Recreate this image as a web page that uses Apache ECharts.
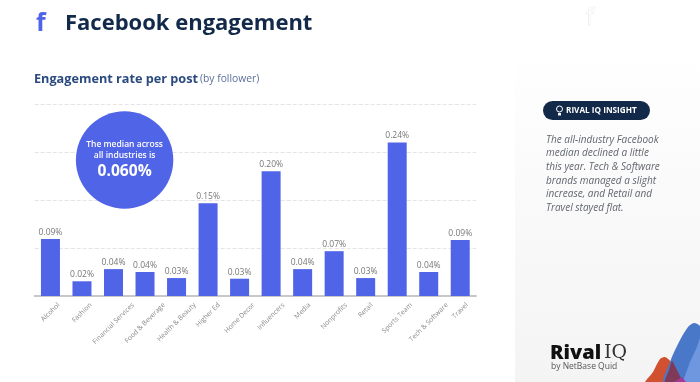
<!DOCTYPE html>
<html><head><meta charset="utf-8">
<style>html,body{margin:0;padding:0;background:#fff}#c{width:700px;height:382px}</style>
<script src="https://cdn.jsdelivr.net/npm/echarts@6/dist/echarts.min.js"></script>
</head><body><div id="c"></div>
<script>
const categories = ['Alcohol','Fashion','Financial Services','Food & Beverage','Health & Beauty','Higher Ed','Home Decor','Influencers','Media','Nonprofits','Retail','Sports Team','Tech & Software','Travel'];
const values = [0.089,0.023,0.042,0.0375,0.028,0.145,0.027,0.195,0.042,0.07,0.028,0.24,0.0375,0.0875];
const valueLabels = ['0.09%','0.02%','0.04%','0.04%','0.03%','0.15%','0.03%','0.20%','0.04%','0.07%','0.03%','0.24%','0.04%','0.09%'];
const insightLines = ['The all-industry Facebook','median declined a little','this year. Tech & Software','brands managed a slight','increase, and Retail and','Travel stayed flat.'];
const F = '"Open Sans", sans-serif';
const BLUE = '#5064e8', NAVY = '#12294a';
const LABEL_FONT = '6.8px "Open Sans"';
const measure = document.createElement('canvas').getContext('2d');
const chart = echarts.init(document.getElementById('c'), null, {renderer:'canvas'});
const t = (x,y,text,style,z) => ({type:'text',x,y,z:z||10,style:Object.assign({text,fontFamily:F,verticalAlign:'middle'},style)});
chart.setOption({
  animation:false,
  backgroundColor:'#fff',
  grid:{left:34.7,right:224,top:104,bottom:86},
  xAxis:{type:'category',data:categories,
    axisLine:{lineStyle:{color:'#c8c8c8',width:2}},axisTick:{show:false},axisLabel:{show:false}},
  yAxis:{type:'value',min:0,max:0.3,interval:0.075,
    axisLine:{show:false},axisTick:{show:false},axisLabel:{show:false},
    splitLine:{lineStyle:{color:'#e4e4e4',type:'dashed',width:1}}},
  series:[
    {type:'bar',data:values,barWidth:19,itemStyle:{color:BLUE},
      label:{show:true,position:'top',distance:2,color:'#777',fontSize:8.5,fontFamily:F,
        formatter:p=>valueLabels[p.dataIndex]}},
    {type:'custom',silent:true,clip:false,data:categories.map((c,i)=>[i,0]),
      renderItem:(params,api)=>{
        const p = api.coord([api.value(0),0]);
        const text = categories[params.dataIndex];
        measure.font = LABEL_FONT;
        const half = measure.measureText(text).width/2*Math.SQRT1_2;
        return {type:'text',x:p[0],y:p[1]+8+half,rotation:Math.PI/4,
          style:{text,font:LABEL_FONT,fill:'#8a8a8a',align:'center',verticalAlign:'middle'}};
      }}
  ],
  graphic:{elements:[
    {type:'rect',silent:true,z:-1,shape:{x:515,y:47,width:185,height:335},
      style:{fill:new echarts.graphic.LinearGradient(0,0,0,1,[{offset:0,color:'#ffffff'},{offset:0.5,color:'#f9f9f9'},{offset:1,color:'#f4f4f4'}])}},
    t(36,24,'f',{fill:BLUE,fontSize:25,fontWeight:700}),
    t(65,24,'Facebook engagement',{fill:NAVY,fontSize:22,fontWeight:700}),
    t(34,79,'Engagement rate per post',{fill:'#2b4a80',fontSize:12.7,fontWeight:700}),
    t(200,79.5,'(by follower)',{fill:'#5a7099',fontSize:10.3}),
    {type:'circle',z:10,shape:{cx:124.6,cy:160,r:48.7},style:{fill:BLUE}},
    t(124.6,145,'The median across',{fill:'#fff',fontSize:8.5,fontWeight:600,align:'center'}),
    t(124.6,156,'all industries is',{fill:'#fff',fontSize:8.5,fontWeight:600,align:'center'}),
    t(124.6,172,'0.060%',{fill:'#fff',fontSize:15.6,fontWeight:700,align:'center'}),
    t(590,18,'f',{fill:'#fff',stroke:'#d4d4d4',lineWidth:0.6,fontSize:23,align:'center'}),
    {type:'rect',z:10,shape:{x:543,y:101,width:107,height:19,r:9.5},style:{fill:NAVY}},
    {type:'circle',z:11,shape:{cx:559.5,cy:109,r:3},style:{fill:'none',stroke:'#fff',lineWidth:1}},
    {type:'rect',z:11,shape:{x:558,y:113,width:3,height:2.5},style:{fill:'#fff'}},
    t(566,111,'RIVAL IQ INSIGHT',{fill:'#fff',fontSize:8.2,fontWeight:700}),
    ...insightLines.map((s,i)=>t(546,140+i*13.6,s,{fill:'#62666f',fontSize:10,fontStyle:'italic'})),
    t(550,353,'Rival',{fill:'#111',fontSize:20,fontWeight:800}),
    t(604,353,'IQ',{fill:'#333',fontSize:19,fontFamily:'"DejaVu Serif", serif'}),
    t(551,367,'by NetBase Quid',{fill:'#555',fontSize:8.5}),
    {type:'polygon',z:5,shape:{smooth:0.3,points:[[645,384],[653,372],[660,359],[665,357],[671,362],[677,374],[684,384]]},style:{fill:'#d0502f'}},
    {type:'polygon',z:6,shape:{smooth:0.3,points:[[664,384],[670,362],[679,342],[688,327],[694,323],[700,326],[704,340],[704,384]]},style:{fill:'#4a78c8'}},
    {type:'polygon',z:7,shape:{points:[[682,384],[690,362],[697,347],[701,335],[701,384]]},style:{fill:'#6f97e0'}},
    {type:'polygon',z:8,shape:{smooth:0.3,points:[[665,384],[669,370],[672,361],[675,366],[680,376],[684,384]]},style:{fill:'#7f3a5a'}},
    {type:'polygon',z:9,shape:{points:[[674,382],[682,377],[686,382]]},style:{fill:'#a23a9a'}}
  ]}
});
</script></body></html>
